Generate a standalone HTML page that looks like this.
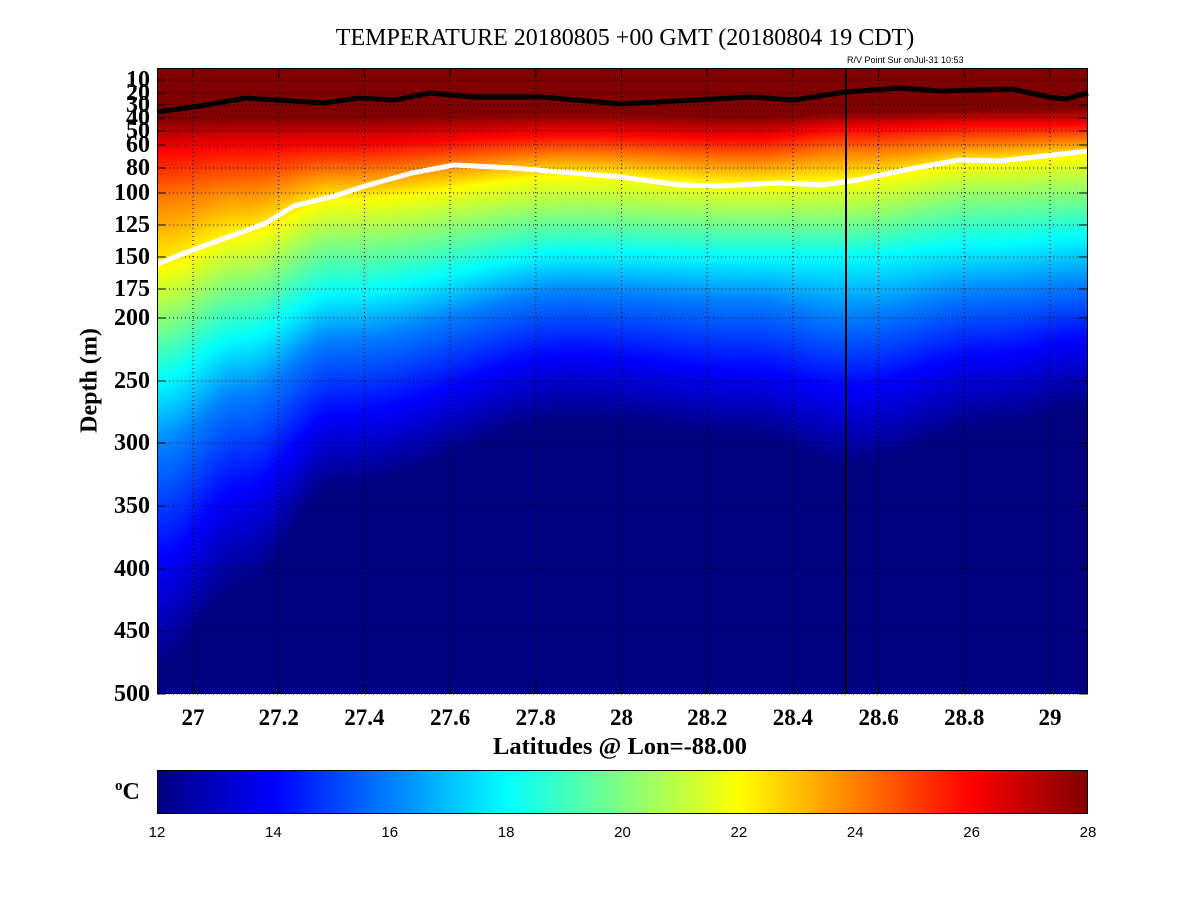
<!DOCTYPE html>
<html><head><meta charset="utf-8"><style>
body{margin:0;background:#fff;width:1201px;height:901px;position:relative;overflow:hidden;font-family:"Liberation Serif",serif}
.t{position:absolute;white-space:nowrap}
.yl{position:absolute;right:1051px;font-weight:bold;font-size:24px;line-height:24px;text-align:right}
.xl{position:absolute;top:705px;font-weight:bold;font-size:23px;transform:translateX(-50%)}
.cl{position:absolute;top:824px;font-family:"Liberation Sans",sans-serif;font-size:15px;transform:translateX(-50%)}
</style></head><body>
<canvas id="c" width="931" height="626" style="position:absolute;left:157px;top:68px"></canvas>
<svg width="1201" height="901" style="position:absolute;left:0;top:0">
<defs><linearGradient id="jet" x1="0" x2="1" y1="0" y2="0">
<stop offset="0" stop-color="#000080"/><stop offset=".125" stop-color="#0000ff"/><stop offset=".375" stop-color="#00ffff"/><stop offset=".625" stop-color="#ffff00"/><stop offset=".875" stop-color="#ff0000"/><stop offset="1" stop-color="#800000"/></linearGradient></defs>
<g id="grid" stroke="#000" stroke-width="1" stroke-dasharray="1,3" fill="none"></g>
<polyline fill="none" stroke="#000" stroke-width="5" points="157,112 200,106 246,98 323,103 359,98 395,100 430,93 472,97 543,97 620,104 751,97 794,100 846,92 899,88 941,91 1012,89 1048,97 1066,99 1088,93"/>
<polyline fill="none" stroke="#fff" stroke-width="5" points="157,264 193,250 264,224 294,206 335,196 365,186 412,173 454,165 513,168 573,173 620,177 680,185 721,186 780,183 822,185 858,180 905,170 959,160 1000,161 1088,151"/>
<line x1="846" y1="68" x2="846" y2="694" stroke="#000" stroke-width="2"/>
<g id="ticks" stroke="#000" stroke-width="1"></g>
<rect x="157.5" y="68.5" width="930" height="625" fill="none" stroke="#000"/>
<rect x="157.5" y="770.5" width="930" height="43" fill="url(#jet)" stroke="#000"/>
</svg>
<div class="t" style="left:0;width:1250px;top:25px;text-align:center;font-size:24px">TEMPERATURE 20180805 +00 GMT (20180804 19 CDT)</div>
<div class="t" style="left:847px;top:55px;font-family:'Liberation Sans',sans-serif;font-size:9px">R/V Point Sur onJul-31 10:53</div>
<div id="yl"></div>
<div class="t" style="left:0;width:1240px;top:733px;text-align:center;font-weight:bold;font-size:24.5px">Latitudes @ Lon=-88.00</div>
<div class="t" style="left:30px;top:367px;transform:rotate(-90deg);font-weight:bold;font-size:24px;transform-origin:center;width:120px;text-align:center">Depth (m)</div>
<div class="t" style="left:115px;top:778px;font-weight:bold;font-size:24px"><sup style="font-size:15px">o</sup>C</div>
<div id="xl"></div>
<script>
const ys={10:80,20:93,30:105,40:118,50:131,60:145,80:168,100:193,125:225,150:257,175:289,200:318,250:381,300:443,350:506,400:569,450:631,500:694};
const xt=[27,27.2,27.4,27.6,27.8,28,28.2,28.4,28.6,28.8,29];
let g=document.getElementById('grid'),tk=document.getElementById('ticks'),s='',t='',h='';
xt.forEach((v,i)=>{const x=193+i*85.7;s+=`<line x1="${x}" y1="68" x2="${x}" y2="694"/>`;t+=`<line x1="${x}" y1="68" x2="${x}" y2="77"/><line x1="${x}" y1="694" x2="${x}" y2="685"/>`;h+=`<div class="xl" style="left:${x}px">${v}</div>`});
document.getElementById('xl').innerHTML=h;h='';
for(const d in ys){const y=ys[d];s+=`<line x1="157" y1="${y}" x2="1088" y2="${y}"/>`;t+=`<line x1="157" y1="${y}" x2="166" y2="${y}"/><line x1="1088" y1="${y}" x2="1079" y2="${y}"/>`;h+=`<div class="yl" style="top:${y-12}px">${d}</div>`}
g.innerHTML=s;tk.innerHTML=t;document.getElementById('yl').innerHTML=h;
let cs='';for(let i=0;i<=8;i++){cs+=`<div class="cl" style="left:${157+i*116.375}px">${12+2*i}</div>`}
document.getElementById('xl').innerHTML+=cs;
const kx=[157,240,335,573,751,846,988,1088];
const iso=[[118,150,200,268,323,379,447,559,667],[116,146,188,236,285,337,395,490,590],[116,144,172,200,244,292,339,415,487],[112,134,154,176,216,252,292,355,419],[116,138,160,184,220,256,300,371,435],[112,128,152,180,220,256,316,387,467],[110,124,144,162,200,244,292,355,427],[108,124,140,156,196,236,284,339,407]];
const temps=[28,26,24,22,20,18,16,14,12];
function jet(v){v=Math.max(0,Math.min(1,v));const f=(a)=>Math.max(0,Math.min(1,1.5-Math.abs(4*v-a)));return[f(3)*255,f(2)*255,f(1)*255]}
const c=document.getElementById('c'),ctx=c.getContext('2d'),im=ctx.createImageData(931,626);
for(let px=0;px<931;px++){const X=157+px;let j=0;while(j<kx.length-2&&X>kx[j+1])j++;let f=(X-kx[j])/(kx[j+1]-kx[j]);f=f*f*(3-2*f);
const col=iso[j].map((a,i)=>a+(iso[j+1][i]-a)*f);
for(let py=0;py<626;py++){const Y=68+py;let T;
if(Y<=col[0])T=28;else if(Y>=col[8])T=12;else{let k=0;while(Y>col[k+1])k++;const u=(Y-col[k])/(col[k+1]-col[k]);T=temps[k]+(temps[k+1]-temps[k])*u}
const [r,gg,b]=jet((T-12)/16);const o=(py*931+px)*4;im.data[o]=r;im.data[o+1]=gg;im.data[o+2]=b;im.data[o+3]=255}}
ctx.putImageData(im,0,0);
</script>
</body></html>
